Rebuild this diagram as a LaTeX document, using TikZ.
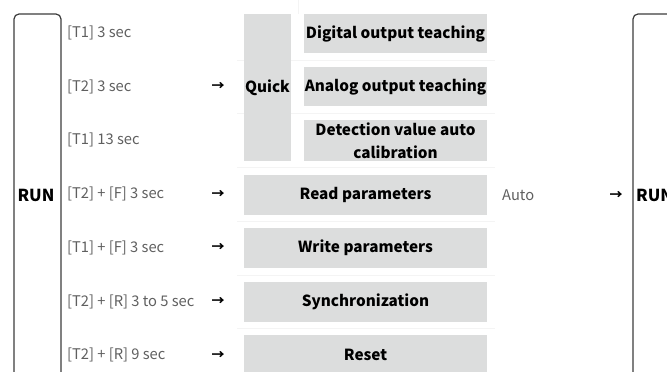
\documentclass[tikz,border=0pt]{standalone}
\usepackage{fontspec}
\setmainfont{Noto Sans CJK KR}
\usepackage{tikz}
\usetikzlibrary{positioning}
\definecolor{boxgray}{RGB}{220,221,221}
\definecolor{txtgray}{RGB}{95,95,95}
\definecolor{rulegray}{RGB}{244,244,244}
\definecolor{runline}{RGB}{60,60,60}
\tikzset{
  cond/.style={anchor=west,inner sep=0pt,text=txtgray,font=\fontsize{14.7}{17}\selectfont},
  arr/.style={inner sep=0pt,text=black,font=\bfseries\fontsize{13}{15}\selectfont},
  act/.style={fill=boxgray,inner sep=0pt,align=center,text=black,font=\bfseries\fontsize{15.3}{23}\selectfont},
  wide/.style={act,minimum width=243pt,minimum height=40pt},
  sub/.style={act,minimum width=183pt,minimum height=39pt},
  runbox/.style={draw=runline,line width=1.2pt,rounded corners=5pt},
  runtxt/.style={inner sep=0pt,text=black,font=\bfseries\fontsize{16.5}{18}\selectfont}
}
\begin{document}
\begin{tikzpicture}[x=1pt,y=-1pt]
\useasboundingbox(0,0)rectangle(667,372);
\clip(0,0)rectangle(667,372);
% faint table rules
\foreach\y in{60,113,167,221,275,328}{\draw[rulegray](237,\y)--(495,\y);}
\draw[rulegray](298,0)--(298,14);
% RUN frames
\draw[runbox](14,390)|-(61,14)--(61,390);
\node[runtxt](runL)at(36,195){RUN};
\draw[runbox](633,390)|-(700,14);
\node[runtxt,anchor=west](runR)at(636,195){RUN};
% key conditions
\foreach\txt[count=\i]in{{[T1] 3 sec},{[T2] 3 sec},{[T1] 13 sec},{[T2] + [F] 3 sec},{[T1] + [F] 3 sec},{[T2] + [R] 3 to 5 sec},{[T2] + [R] 9 sec}}
  {\node[cond](c\i)at(67,{33+53.7*(\i-1)}){\txt};}
\foreach\i in{2,4,5,6,7}{\node[arr](a\i)at(218,0 |- c\i){→};}
% functions
\node[act,minimum width=47pt,minimum height=147pt](quick)at(267.5,87.5){Quick};
\node[sub](dig)at(395.5,33.5){Digital output teaching};
\node[sub](ana)at(395.5,86.5){Analog output teaching};
\node[sub,minimum height=41pt](cal)at(395.5,140.5){Detection value auto\\calibration};
\node[wide](rd)at(365.5,195){Read parameters};
\node[wide](wr)at(365.5,248){Write parameters};
\node[wide](syn)at(365.5,301.5){Synchronization};
\node[wide](rst)at(365.5,355){Reset};
\node[cond](auto)at(502,195){Auto};
\node[arr](a8)at(616,195){→};
\end{tikzpicture}
\end{document}
